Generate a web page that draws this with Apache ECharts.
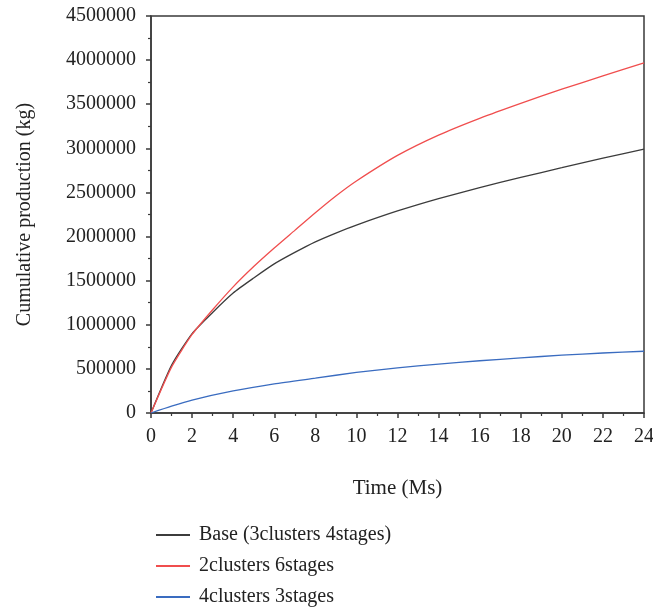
<!DOCTYPE html>
<html>
<head>
<meta charset="utf-8">
<script src="https://cdn.jsdelivr.net/npm/echarts@6/dist/echarts.min.js"></script>
<style>
html,body{margin:0;padding:0;background:#fff;}
#main{width:653px;height:609px;}
</style>
</head>
<body>
<div id="main"></div>
<script>
var seriesNames = ['Base (3clusters 4stages)', '2clusters 6stages', '4clusters 3stages'];
var baseTimes = [0, 1, 2, 3, 4, 5, 6, 7, 8, 9, 10, 12, 14, 16, 18, 20, 22, 24];
var baseValues = [0, 540000, 900000, 1140000, 1360000, 1530000, 1690000, 1820000, 1940000, 2040000, 2130000, 2290000, 2430000, 2555000, 2670000, 2780000, 2890000, 2990000];
var redTimes = [0, 1, 2, 3, 4, 5, 6, 7, 8, 9, 10, 12, 14, 16, 18, 20, 22, 24];
var redValues = [0, 520000, 890000, 1170000, 1430000, 1660000, 1870000, 2070000, 2270000, 2460000, 2630000, 2920000, 3150000, 3340000, 3510000, 3670000, 3820000, 3970000];
var blueTimes = [0, 1, 2, 4, 6, 8, 10, 12, 14, 16, 18, 20, 22, 24];
var blueValues = [0, 78000, 147000, 250000, 330000, 395000, 460000, 512000, 555000, 592000, 625000, 655000, 680000, 700000];
var xTicks = [0, 2, 4, 6, 8, 10, 12, 14, 16, 18, 20, 22, 24];
var yTicks = [0, 500000, 1000000, 1500000, 2000000, 2500000, 3000000, 3500000, 4000000, 4500000];

function pairs(xs, ys) { return xs.map(function (x, i) { return [x, ys[i]]; }); }

var FONT = 'Liberation Serif';
var AX = '#3a3a3a';
var TXT = '#222';
var chart = echarts.init(document.getElementById('main'));
chart.setOption({
  animation: false,
  backgroundColor: '#fff',
  textStyle: { fontFamily: FONT },
  grid: { left: 151, right: 9, top: 16, bottom: 196, show: true, borderColor: AX, borderWidth: 1.5,
          containLabel: false, outerBoundsMode: 'none' },
  legend: {
    orient: 'vertical', left: 151, top: 520, width: 400, height: 100,
    itemWidth: 34, itemHeight: 2, itemGap: 11, icon: 'rect',
    textStyle: { fontFamily: FONT, fontSize: 20, color: TXT, padding: [0, 0, 0, 4] },
    data: seriesNames
  },
  xAxis: {
    type: 'value', min: xTicks[0], max: xTicks[xTicks.length - 1], interval: 2,
    name: 'Time (Ms)', nameLocation: 'middle', nameGap: 65,
    nameTextStyle: { fontFamily: FONT, fontSize: 21, color: TXT },
    axisLine: { lineStyle: { color: AX, width: 1.5 } },
    axisTick: { inside: false, length: 5, lineStyle: { color: AX, width: 1.5 } },
    minorTick: { show: true, splitNumber: 2, length: 3, lineStyle: { color: AX, width: 1.2 } },
    axisLabel: { fontFamily: FONT, fontSize: 20, color: TXT, margin: 14 },
    splitLine: { show: false }
  },
  yAxis: {
    type: 'value', min: yTicks[0], max: yTicks[yTicks.length - 1], interval: 500000,
    name: 'Cumulative production (kg)', nameLocation: 'middle', nameGap: 116,
    nameTextStyle: { fontFamily: FONT, fontSize: 20, color: TXT },
    axisLine: { lineStyle: { color: AX, width: 1.5 } },
    axisTick: { inside: false, length: 5, lineStyle: { color: AX, width: 1.5 } },
    minorTick: { show: true, splitNumber: 2, length: 3, lineStyle: { color: AX, width: 1.2 } },
    axisLabel: { fontFamily: FONT, fontSize: 20, color: TXT, margin: 15, formatter: function (v) { return String(v); } },
    splitLine: { show: false }
  },
  series: [
    { name: seriesNames[0], type: 'line', data: pairs(baseTimes, baseValues), showSymbol: false, symbol: 'none', smooth: 0.2,
      lineStyle: { color: '#3c3c3c', width: 1.3 }, itemStyle: { color: '#3c3c3c' } },
    { name: seriesNames[1], type: 'line', data: pairs(redTimes, redValues), showSymbol: false, symbol: 'none', smooth: 0.2,
      lineStyle: { color: '#f04e4e', width: 1.3 }, itemStyle: { color: '#f04e4e' } },
    { name: seriesNames[2], type: 'line', data: pairs(blueTimes, blueValues), showSymbol: false, symbol: 'none', smooth: 0.2,
      lineStyle: { color: '#3a6cc0', width: 1.3 }, itemStyle: { color: '#3a6cc0' } }
  ]
});
</script>
</body>
</html>
